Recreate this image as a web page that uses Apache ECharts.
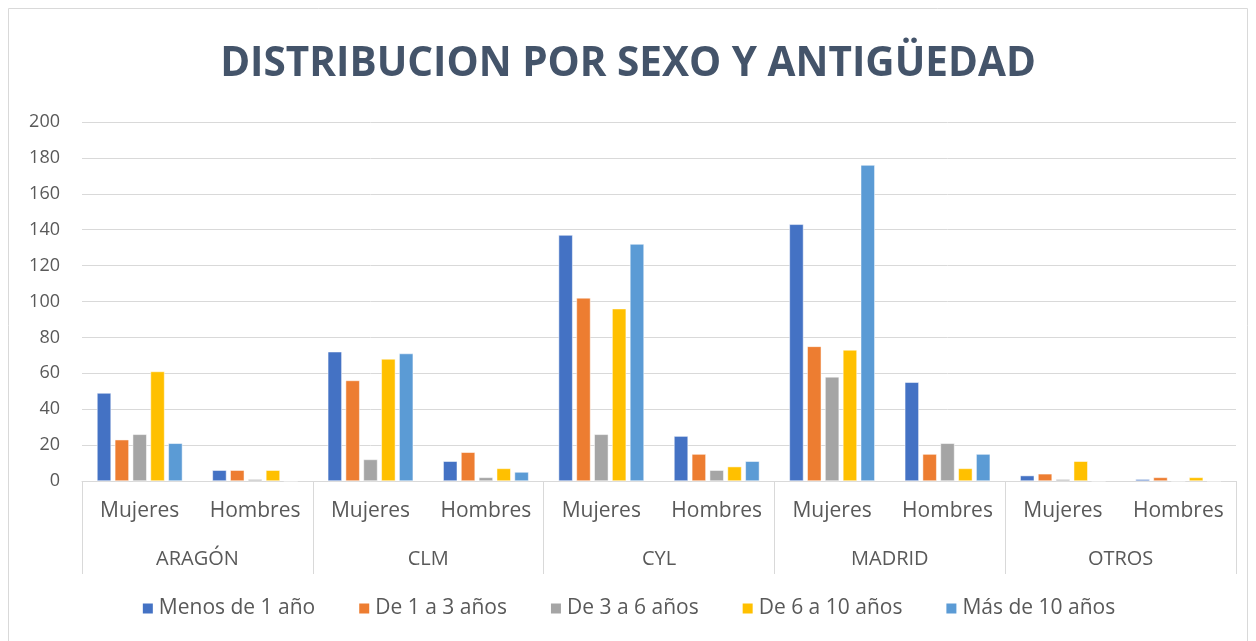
<!DOCTYPE html>
<html><head><meta charset="utf-8">
<script src="https://cdn.jsdelivr.net/npm/echarts@6/dist/echarts.min.js"></script>
<style>html,body{margin:0;padding:0;background:#fff}#c{width:1256px;height:641px}</style>
</head><body><div id="c"></div>
<script>
const groups = ['ARAGÓN','CLM','CYL','MADRID','OTROS'];
const subCats = ['Mujeres','Hombres','Mujeres','Hombres','Mujeres','Hombres','Mujeres','Hombres','Mujeres','Hombres'];
const seriesNames = ['Menos de 1 año','De 1 a 3 años','De 3 a 6 años','De 6 a 10 años','Más de 10 años'];
const menos1 = [49, 6, 72, 11, 137, 25, 143, 55, 3, 1];
const de1a3 = [23, 6, 56, 16, 102, 15, 75, 15, 4, 2];
const de3a6 = [26, 1, 12, 2, 26, 6, 58, 21, 1, 0];
const de6a10 = [61, 6, 68, 7, 96, 8, 73, 7, 11, 2];
const mas10 = [21, 0, 71, 5, 132, 11, 176, 15, 0, 0];
const colors = ['#4472C4','#ED7D31','#A5A5A5','#FFC000','#5B9BD5'];
const values = [menos1, de1a3, de3a6, de6a10, mas10];

const chart = echarts.init(document.getElementById('c'));
chart.setOption({
  animation:false,
  title:{text:'DISTRIBUCION POR SEXO Y ANTIGÜEDAD',left:'center',top:39,
    textStyle:{fontFamily:'Open Sans',fontWeight:'bold',fontSize:40.5,color:'#44546A'}},
  graphic:[{type:'rect',shape:{x:8.5,y:8.5,width:1239,height:640},style:{fill:'none',stroke:'#D9D9D9',lineWidth:1}}],
  legend:{bottom:17,left:'center',itemWidth:12,itemHeight:12,itemGap:42,icon:'rect',
    textStyle:{fontFamily:'Open Sans',fontSize:21,color:'#595959'},data:seriesNames},
  grid:{left:82,right:20,top:122,bottom:160},
  xAxis:[
    {type:'category',data:subCats,axisLine:{lineStyle:{color:'#D9D9D9'}},axisTick:{show:false},
     axisLabel:{interval:0,fontFamily:'Open Sans',fontSize:21,color:'#595959',margin:20}},
    {type:'category',data:groups,position:'bottom',offset:93,axisLine:{show:false},
     axisTick:{show:true,inside:true,length:93,lineStyle:{color:'#D9D9D9'}},
     axisLabel:{interval:0,fontFamily:'Open Sans',fontSize:20,color:'#595959',margin:-25}}
  ],
  yAxis:{type:'value',min:0,max:200,interval:20,axisLine:{show:false},axisTick:{show:false},
    splitLine:{lineStyle:{color:'#D9D9D9'}},
    axisLabel:{fontFamily:'Open Sans',fontSize:18,color:'#595959',margin:22}},
  series: seriesNames.map((n,i)=>({name:n,type:'bar',xAxisIndex:0,data:values[i],
    barGap:'27%',barCategoryGap:'26%',itemStyle:{color:colors[i],borderColor:'#fff',borderWidth:0.5}}))
});
</script></body></html>
